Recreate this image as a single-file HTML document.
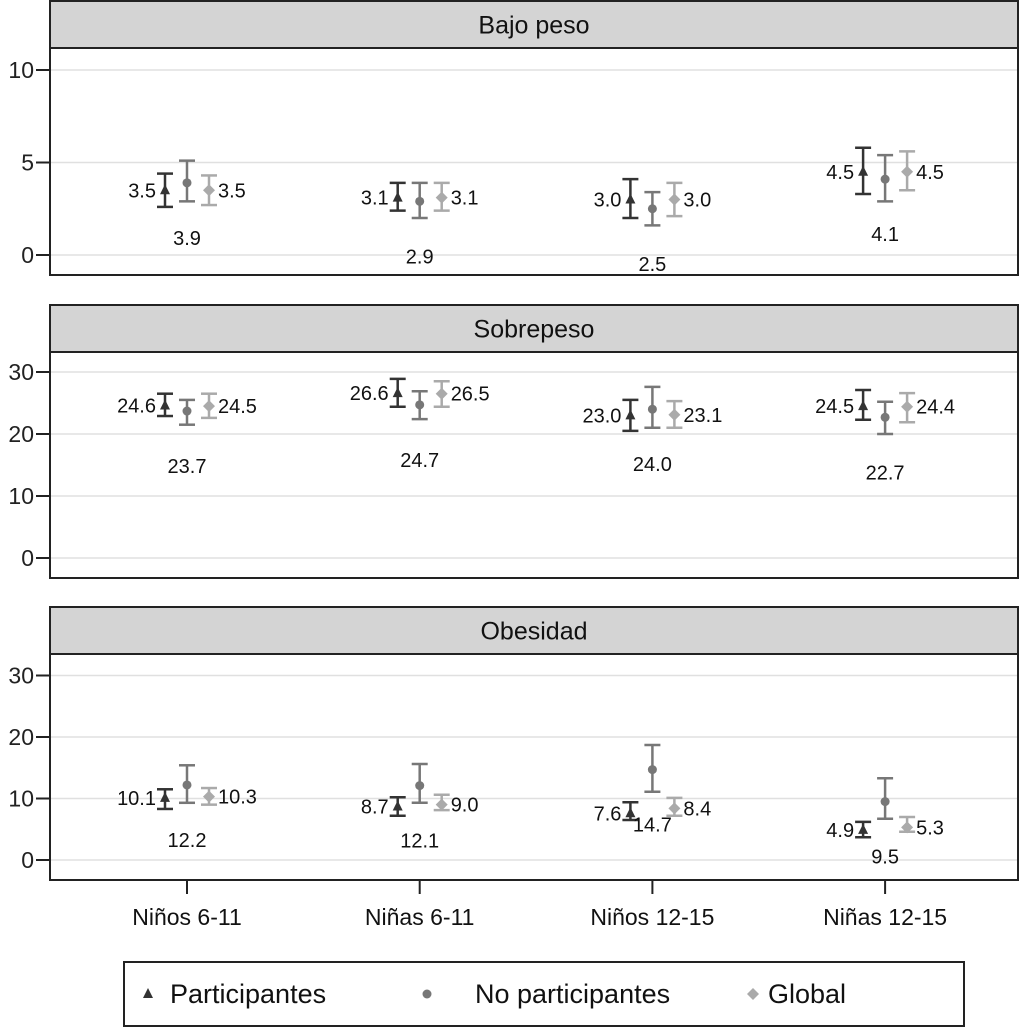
<!DOCTYPE html>
<html><head><meta charset="utf-8"><style>
body{margin:0;background:#fff;}
svg{display:block;font-family:"Liberation Sans",sans-serif;}
</style></head><body>
<svg id="c" width="1024" height="1028"></svg>
<script>
const categories=["Niños 6-11","Niñas 6-11","Niños 12-15","Niñas 12-15"];
const panelTitles=["Bajo peso","Sobrepeso","Obesidad"];
const seriesNames=["Participantes","No participantes","Global"];
const bajoEst=[[3.5,3.1,3.0,4.5],[3.9,2.9,2.5,4.1],[3.5,3.1,3.0,4.5]];
const bajoLo=[[2.6,2.4,2.0,3.3],[2.9,2.0,1.6,2.9],[2.7,2.4,2.1,3.5]];
const bajoHi=[[4.4,3.9,4.1,5.8],[5.1,3.9,3.4,5.4],[4.3,3.9,3.9,5.6]];
const sobreEst=[[24.6,26.6,23.0,24.5],[23.7,24.7,24.0,22.7],[24.5,26.5,23.1,24.4]];
const sobreLo=[[22.9,24.4,20.5,22.3],[21.5,22.4,21.0,20.0],[22.6,24.4,21.0,21.9]];
const sobreHi=[[26.5,28.9,25.5,27.1],[25.5,26.9,27.6,25.2],[26.5,28.5,25.3,26.6]];
const obeEst=[[10.1,8.7,7.6,4.9],[12.2,12.1,14.7,9.5],[10.3,9.0,8.4,5.3]];
const obeLo=[[8.3,7.2,6.5,3.7],[9.3,9.3,11.1,6.7],[9.0,8.1,7.2,4.6]];
const obeHi=[[11.5,10.2,9.4,6.2],[15.4,15.6,18.7,13.3],[11.7,10.6,10.1,7.0]];
const ticks1=[0,5,10], ticks2=[0,10,20,30], ticks3=[0,10,20,30];

const NS="http://www.w3.org/2000/svg";
const svg=document.getElementById('c');
function mk(t,a,txt,p){const e=document.createElementNS(NS,t);for(const k in a)e.setAttribute(k,a[k]);if(txt!==undefined)e.textContent=txt;(p||svg).appendChild(e);return e;}
const colors=["#333","#777","#aaa"];
const L=50,R=1018;
const xc=i=>187+i*232.7;
const off=[-22,0,22];
const panels=[
 {top:1,hb:48,bot:275,y0:255,upp:18.5,ticks:ticks1,est:bajoEst,lo:bajoLo,hi:bajoHi,key:"bajo-peso"},
 {top:305,hb:352,bot:578,y0:558,upp:6.2,ticks:ticks2,est:sobreEst,lo:sobreLo,hi:sobreHi,key:"sobrepeso"},
 {top:607,hb:654,bot:880,y0:860,upp:6.15,ticks:ticks3,est:obeEst,lo:obeLo,hi:obeHi,key:"obesidad"}];
panels.forEach((p,pi)=>{
 const g=mk('g',{});
 
 
 const y=v=>p.y0-v*p.upp;
 p.ticks.forEach(t=>{
  const gl=mk('line',{x1:L,x2:R,y1:y(t),y2:y(t),stroke:'#e0e0e0','stroke-width':1.5},undefined,g);
  
  mk('line',{x1:L-14,x2:L,y1:y(t),y2:y(t),stroke:'#222','stroke-width':2},undefined,g);
  const tl=mk('text',{x:L-16,y:y(t)+8,'text-anchor':'end','font-size':23,fill:'#222'},t,g);
  
 });
 const hd=mk('rect',{x:L,y:p.top,width:R-L,height:p.hb-p.top,fill:'#d4d4d4',stroke:'#222','stroke-width':2},undefined,g);
 
 const ht=mk('text',{x:(L+R)/2,y:(p.top+p.hb)/2+9,'text-anchor':'middle','font-size':25,fill:'#111'},panelTitles[pi],g);
 
 mk('rect',{x:L,y:p.hb,width:R-L,height:p.bot-p.hb,fill:'none',stroke:'#222','stroke-width':2},undefined,g);
 for(let s=0;s<3;s++)for(let c=0;c<4;c++){
  const x=xc(c)+off[s],col=colors[s];
  const eb=mk('g',{},undefined,g);
  
  mk('line',{x1:x,x2:x,y1:y(p.lo[s][c]),y2:y(p.hi[s][c]),stroke:col,'stroke-width':2.5},undefined,eb);
  mk('line',{x1:x-8,x2:x+8,y1:y(p.lo[s][c]),y2:y(p.lo[s][c]),stroke:col,'stroke-width':2.5},undefined,eb);
  mk('line',{x1:x-8,x2:x+8,y1:y(p.hi[s][c]),y2:y(p.hi[s][c]),stroke:col,'stroke-width':2.5},undefined,eb);
  const yv=y(p.est[s][c]);
  let m;
  if(s==0)m=mk('polygon',{points:`${x},${yv-6} ${x-5},${yv+4} ${x+5},${yv+4}`,fill:col},undefined,eb);
  else if(s==1)m=mk('circle',{cx:x,cy:yv,r:4.5,fill:col},undefined,eb);
  else m=mk('polygon',{points:`${x},${yv-6} ${x+6},${yv} ${x},${yv+6} ${x-6},${yv}`,fill:col},undefined,eb);
  
  let lt;
  if(s==0)lt=mk('text',{x:x-9,y:yv+7,'text-anchor':'end','font-size':20,fill:'#111'},p.est[s][c].toFixed(1),g);
  else if(s==1)lt=mk('text',{x:x,y:yv+62,'text-anchor':'middle','font-size':20,fill:'#111'},p.est[s][c].toFixed(1),g);
  else lt=mk('text',{x:x+9,y:yv+7,'text-anchor':'start','font-size':20,fill:'#111'},p.est[s][c].toFixed(1),g);
  
 }
});
categories.forEach((c,i)=>{
 mk('line',{x1:xc(i),x2:xc(i),y1:880,y2:894,stroke:'#222','stroke-width':2});
 const t=mk('text',{x:xc(i),y:925,'text-anchor':'middle','font-size':23,fill:'#111'},c);
 
});
const lg=mk('g',{});

mk('rect',{x:124,y:962,width:840,height:64,fill:'#fff',stroke:'#222','stroke-width':2},undefined,lg);
const lx=[148,427,753],tx=[170,475,768];
seriesNames.forEach((n,s)=>{
 const x=lx[s],yv=994,col=colors[s];
 if(s==0)mk('polygon',{points:`${x},${yv-6} ${x-5},${yv+4} ${x+5},${yv+4}`,fill:col},undefined,lg);
 else if(s==1)mk('circle',{cx:x,cy:yv,r:4.5,fill:col},undefined,lg);
 else mk('polygon',{points:`${x},${yv-6} ${x+6},${yv} ${x},${yv+6} ${x-6},${yv}`,fill:col},undefined,lg);
 const t=mk('text',{x:tx[s],y:1003,'font-size':27,fill:'#111'},n,lg);
 
});
</script>
</body></html>
